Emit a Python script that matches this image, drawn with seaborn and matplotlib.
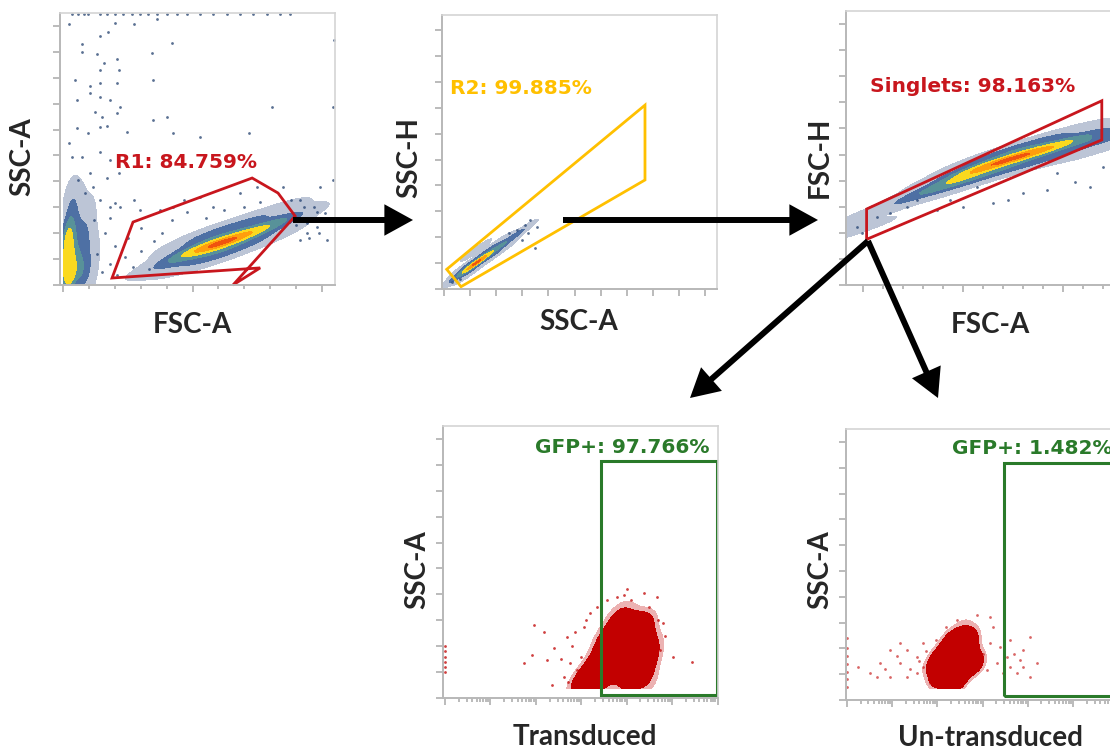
import matplotlib.pyplot as plt
import numpy as np
import seaborn as sns
from matplotlib.colors import ListedColormap
from matplotlib.patches import Polygon, Rectangle, FancyArrowPatch

W, H = 1110, 751

# ---- panel 1: FSC-A vs SSC-A, gate R1 ----
p1_gate_x = [270, 730, 830, 896, 656, 761, 189]
p1_gate_y = [243, 413, 355, 266, 0, 66, 27]
p1_main_x = [375, 452, 529, 593, 658, 722, 786, 851, 889,
             452, 529, 593, 658, 722, 786, 851,
             452, 529, 593, 658, 722, 786, 851]
p1_main_y = [71, 109, 142, 154, 180, 199, 225, 251, 264,
             150, 185, 200, 225, 245, 270, 295,
             70, 100, 112, 140, 158, 185, 210]
p1_main_w = [1, 2, 4, 5, 4, 3, 2, 1.2, 0.8,
             0.6, 1, 1.2, 1, 0.8, 0.6, 0.5,
             0.6, 1, 1.2, 1, 0.8, 0.6, 0.4]
p1_debris_x = [15, 20, 25, 30, 45, 60, 80, 20, 40, 10, 50, 100, 70, 90, 110, 35,
               90, 100, 120, 110, 70, 60, 80]
p1_debris_y = [60, 120, 200, 280, 350, 150, 100, 25, 60, 180, 240, 50, 200, 150, 80, 320,
               250, 200, 150, 300, 330, 50, 30]
p1_debris_w = [3, 3, 2, 1, 0.5, 1, 0.7, 2, 1.5, 1.5, 0.8, 0.5, 0.8, 0.6, 0.5, 0.5,
               0.6, 0.5, 0.4, 0.3, 0.4, 1.5, 1]
p1_dots_x = [21, 72, 143, 175, 201, 272, 362, 420, 342, 72, 130, 156, 207, 214, 143,
             46, 102, 143, 207, 349, 53, 104, 143, 181, 207, 220, 124, 149, 143, 53,
             98, 169, 246, 349, 400, 426, 529, 716, 806, 1048, 1044, 21, 33, 72, 143,
             181, 104, 59, 85, 117, 169, 214, 143, 181, 201, 272, 297, 375, 426, 465,
             529, 580, 683, 748, 851, 915, 967, 992, 1012, 1044, 1018, 941, 979, 915,
             150, 180, 210, 240, 270, 300, 330, 200, 160, 250, 300, 350, 130, 120, 180,
             220, 380, 420, 480, 550, 620, 700, 760, 880, 900, 940, 980, 1000, 950, 990,
             930,
             33, 59, 79, 98, 143, 169, 201, 233, 265, 297, 329, 362, 400, 438, 477,
             528, 580, 631, 683, 735, 786, 838, 876]
p1_dots_y = [1008, 930, 961, 978, 1013, 1008, 1026, 936, 897, 901, 892, 856, 871, 830, 830,
             792, 768, 781, 779, 792, 714, 740, 727, 714, 663, 689, 669, 650, 609, 605,
             586, 614, 592, 637, 650, 586, 573, 586, 689, 946, 689, 547, 496, 496, 515,
             483, 431, 405, 354, 380, 412, 431, 328, 302, 315, 328, 290, 290, 302, 328,
             341, 302, 354, 380, 380, 328, 302, 380, 277, 405, 174, 200, 225, 174,
             50, 80, 40, 110, 70, 130, 60, 150, 200, 180, 220, 170, 120, 250, 260,
             300, 200, 250, 280, 260, 290, 300, 320, 330, 230, 240, 280, 250, 180, 200,
             300,
             1045, 1045, 1045, 1045, 1045, 1045, 1045, 1045, 1045, 1045, 1045, 1045, 1045,
             1045, 1045, 1045, 1045, 1045, 1045, 1045, 1045, 1045, 1045]

# ---- panel 2: SSC-A vs SSC-H, gate R2 ----
p2_gate_x = [10, 770, 770, 65]
p2_gate_y = [76, 710, 421, 9]
p2_pop_x = [42, 87, 119, 132, 176, 221, 266, 304, 78, 96, 123, 141, 212, 230, 167, 185]
p2_pop_y = [41, 73, 99, 106, 138, 170, 202, 228, 85, 61, 150, 126, 182, 158, 150, 126]
p2_pop_w = [1, 3, 5, 4, 3, 2, 1.2, 0.6, 1, 1, 0.8, 0.8, 0.6, 0.6, 0.8, 0.8]
p2_dots_x = [355, 349, 323, 310, 278, 329, 29, 300, 250, 60]
p2_dots_y = [241, 157, 215, 247, 228, 266, 28, 190, 215, 40]

# ---- panel 3: FSC-A vs FSC-H, gate Singlets ----
p3_gate_x = [18, 1194, 1194, 18]
p3_gate_y = [291, 706, 556, 175]
p3_pop_x = [-32, 52, 302, 468, 635, 802, 968, 1202, 1302,
            468, 468, 635, 635, 802, 802, 968, 968, 1202, 1202]
p3_pop_y = [211, 275, 351, 402, 460, 498, 530, 568, 581,
            430, 374, 492, 428, 532, 462, 566, 492, 600, 530]
p3_pop_w = [0.4, 0.6, 1.2, 2.5, 4, 4, 3, 1.5, 0.8,
            0.6, 0.6, 1, 1, 1, 1, 0.8, 0.8, 0.5, 0.5]
p3_dots_x = [435, 568, 727, 918, 1060, 1135, 1202, 502, 652, 802, 968, 218, 135, -32,
             -7, 68, 268, 368]
p3_dots_y = [326, 377, 326, 364, 396, 377, 453, 300, 313, 351, 428, 300, 275, 224,
             198, 262, 326, 287]

# ---- panel 4: Transduced, GFP (decades) vs SSC-A ----
p4_gate_x = [3.43, 5.98]
p4_gate_y = [12, 916]
p4_pop_x = [3.93, 3.49, 3.19, 3.05, 4.37, 4.07, 3.63, 4.37, 4.07, 3.56, 4.22, 3.93,
            4.44, 3.30, 2.95, 4.55, 3.80]
p4_pop_y = [185, 95, 57, 44, 288, 263, 160, 134, 82, 224, 211, 340, 57, 120, 60, 200, 300]
p4_pop_w = [5, 3, 2, 1.5, 2, 3, 4, 3, 3, 2.5, 3.5, 1, 1.5, 2, 1, 1.5, 1.5]
p4_dots_x = [1.95, 2.17, 2.39, 2.68, 2.75, 2.24, 1.73, 1.91, 2.86, 3.05, 3.19, 3.56,
             3.93, 4.37, 4.66, 4.81, 5.03, 5.43, 4.74, 4.59, 2.35, 2.61, 2.90, 3.78, 3.34,
             2.55, 2.80, 3.00, 4.10, 4.50, 4.70, 4.85, 2.70, 3.10, 4.00,
             0, 0, 0, 0, 0, 0]
p4_dots_y = [282, 256, 192, 237, 134, 147, 134, 166, 256, 275, 327, 378, 398, 407, 391,
             288, 160, 140, 185, 108, 50, 82, 108, 391, 353,
             150, 200, 160, 380, 350, 300, 240, 60, 300, 420,
             100, 120, 140, 160, 180, 200]

# ---- panel 5: Un-transduced ----
p5_gate_x = [3.48, 6.5]
p5_gate_y = [16, 917]
p5_pop_x = [2.43, 2.20, 2.65, 2.72, 2.06, 2.43, 2.83, 2.57, 2.00, 2.30, 1.85]
p5_pop_y = [142, 103, 194, 245, 168, 78, 142, 284, 90, 230, 130]
p5_pop_w = [5, 3, 3, 1.5, 2, 3, 2.5, 0.8, 1.5, 2, 1]
p5_dots_x = [0.25, 0.51, 0.73, 0.95, 1.17, 1.32, 1.54, 1.69, 1.17, 0.95, 0.66, 1.84,
             1.54, 1.32, 1.69, 1.98, 2.20, 2.43, 2.87, 3.16,
             3.16, 3.31, 3.53, 3.61, 3.83, 3.90, 4.05, 4.20, 3.75, 4.05, 3.24, 3.09,
             3.46, 3.61, 3.90, 3.38, 1.40, 1.60, 1.75, 1.10, 0.85, 3.00, 3.70,
             0, 0, 0, 0, 0, 0, 0]
p5_dots_y = [129, 103, 142, 194, 142, 90, 168, 220, 220, 90, 90, 65, 103, 194, 129,
             233, 284, 310, 329, 323,
             220, 142, 168, 233, 155, 194, 245, 142, 103, 90, 284, 116, 103, 129, 129,
             207, 120, 150, 190, 170, 120, 180, 180,
             50, 80, 110, 140, 170, 200, 240]

HEAT = [(0.13, 0.25, 0.47, 0.3), (0.16, 0.33, 0.58, 0.75), (0.35, 0.58, 0.6, 0.95),
        (0.98, 0.85, 0.12, 1), (1.0, 0.62, 0.05, 1), (0.94, 0.33, 0.06, 1)]
HEAT_LEVELS = [0.02, 0.2, 0.45, 0.65, 0.82, 0.95]
RED = [(0.76, 0, 0, 0.3), (0.76, 0, 0, 1)]
RED_LEVELS = [0.06, 0.12]
NAVY = "#23406e"
DOTRED = "#c00000"

sns.set_style("ticks")
plt.rcParams["font.family"] = ["DejaVu Sans"]

fig = plt.figure(figsize=(W / 100, H / 100), dpi=100)


def make_axes(l, t, r, b, xlim, ylim):
    ax = fig.add_axes([l / W, 1 - b / H, (r - l) / W, (b - t) / H])
    ax.set_xlim(*xlim)
    ax.set_ylim(*ylim)
    for side in ["left", "bottom"]:
        ax.spines[side].set_color("#b8b8b8")
        ax.spines[side].set_linewidth(1.4)
    for side in ["top", "right"]:
        ax.spines[side].set_color("#d4d4d4")
        ax.spines[side].set_linewidth(1.2)
    ax.tick_params(which="both", colors="#a8a8a8", width=1.1,
                   labelleft=False, labelbottom=False)
    ax.tick_params(which="major", length=5)
    ax.tick_params(which="minor", length=3)
    return ax


def density(ax, x, y, w, colors, levels, bw, clip=None):
    # one filled band per density level, inner bands drawn on top
    for lev, col in zip(levels, colors):
        sns.kdeplot(x=x, y=y, weights=w, fill=True, levels=[lev, 1.0],
                    cmap=ListedColormap([col]), bw_adjust=bw, ax=ax, clip=clip,
                    gridsize=160)
    ax.set_xlabel("")
    ax.set_ylabel("")


def dots(ax, x, y, color, alpha=0.75):
    sns.scatterplot(x=x, y=y, s=4, color=color, linewidth=0, alpha=alpha, ax=ax)


def fig_text(x, y, s, **kw):
    fig.text(x / W, 1 - y / H, s, ha=kw.pop("ha", "center"), va="center", **kw)


def axis_label(x, y, s, rot=0):
    fig_text(x, y, s, rotation=rot, fontsize=20, fontweight="bold", family="Lato")


def lin_ticks(ax, xmaj, xmin=None):
    ax.set_yticks(np.arange(0, 1001, 100))
    ax.set_xticks(xmaj)
    if xmin is not None:
        ax.set_xticks(xmin, minor=True)


def log_ticks(ax):
    ax.set_yticks(np.arange(0, 1001, 100))
    ax.set_xticks(np.arange(0, 7))
    minor = [k + np.log10(m) for k in range(6) for m in range(2, 10)]
    ax.set_xticks(minor, minor=True)


# panel 1
ax1 = make_axes(60, 13, 335, 285, (-12, 1050), (0, 1050))
lin_ticks(ax1, [0, 500, 1000], np.arange(0, 1001, 100))
dots(ax1, p1_dots_x, p1_dots_y, NAVY)
density(ax1, p1_debris_x, p1_debris_y, p1_debris_w, HEAT[:4], HEAT_LEVELS[:4], 0.9,
        clip=((0, 1100), (0, 1100)))
density(ax1, p1_main_x, p1_main_y, p1_main_w, HEAT, HEAT_LEVELS, 0.95)
ax1.add_patch(Polygon(list(zip(p1_gate_x, p1_gate_y)), closed=True, fill=False,
                      ec="#c8161d", lw=2.0, clip_on=False))

# panel 2
ax2 = make_axes(442, 15, 717, 289, (-8, 1046), (0, 1058))
lin_ticks(ax2, np.arange(0, 1001, 100))
dots(ax2, p2_dots_x, p2_dots_y, NAVY)
density(ax2, p2_pop_x, p2_pop_y, p2_pop_w, HEAT, HEAT_LEVELS, 0.8)
ax2.add_patch(Polygon(list(zip(p2_gate_x, p2_gate_y)), closed=True, fill=False,
                      ec="#ffc000", lw=2.0))

# panel 3
ax3 = make_axes(846, 11, 1121, 285, (-85, 1290), (0, 1050))
lin_ticks(ax3, [0, 500, 1000], np.arange(0, 1300, 100))
dots(ax3, p3_dots_x, p3_dots_y, NAVY)
density(ax3, p3_pop_x, p3_pop_y, p3_pop_w, HEAT, HEAT_LEVELS, 0.7)
ax3.add_patch(Polygon(list(zip(p3_gate_x, p3_gate_y)), closed=True, fill=False,
                      ec="#c8161d", lw=2.0))

# panel 4
ax4 = make_axes(443, 426, 718, 698, (-0.044, 6.01), (0, 1050))
log_ticks(ax4)
dots(ax4, p4_dots_x, p4_dots_y, DOTRED)
density(ax4, p4_pop_x, p4_pop_y, p4_pop_w, RED, RED_LEVELS, 0.85,
        clip=((-1, 7), (35, 1100)))
ax4.add_patch(Rectangle((p4_gate_x[0], p4_gate_y[0]), p4_gate_x[1] - p4_gate_x[0],
                        p4_gate_y[1] - p4_gate_y[0], fill=False, ec="#2a7a2a", lw=2.2))

# panel 5
ax5 = make_axes(846, 429, 1121, 700, (-0.02, 6.06), (0, 1050))
log_ticks(ax5)
dots(ax5, p5_dots_x, p5_dots_y, DOTRED, alpha=0.6)
density(ax5, p5_pop_x, p5_pop_y, p5_pop_w, RED, RED_LEVELS, 0.85,
        clip=((-1, 7), (45, 1100)))
ax5.add_patch(Rectangle((p5_gate_x[0], p5_gate_y[0]), p5_gate_x[1] - p5_gate_x[0],
                        p5_gate_y[1] - p5_gate_y[0], fill=False, ec="#2a7a2a", lw=2.2))

# axis titles
axis_label(22, 157, "SSC-A", 90)
axis_label(192, 325, "FSC-A")
axis_label(409, 158, "SSC-H", 90)
axis_label(579, 322, "SSC-A")
axis_label(820, 157, "FSC-H", 90)
axis_label(990, 325, "FSC-A")
axis_label(417, 570, "SSC-A", 90)
axis_label(585, 737, "Transduced")
axis_label(820, 570, "SSC-A", 90)
axis_label(991, 738, "Un-transduced")

# gate names (the last one runs off the right edge, as in the original figure)
gate_kw = dict(ha="left", fontsize=14.5, fontweight="bold")
fig_text(115, 163, "R1: 84.759%", color="#c8161d", **gate_kw)
fig_text(450, 89, "R2: 99.885%", color="#ffc000", **gate_kw)
fig_text(870, 86, "Singlets: 98.163%", color="#c8161d", **gate_kw)
fig_text(535, 447, "GFP+: 97.766%", color="#2a7a2a", **gate_kw)
fig_text(952, 448, "GFP+: 1.482%", color="#2a7a2a", **gate_kw)


# arrows between plots
def arrow(x0, y0, x1, y1):
    fig.add_artist(FancyArrowPatch((x0 / W, 1 - y0 / H), (x1 / W, 1 - y1 / H),
                                   transform=fig.transFigure,
                                   arrowstyle="-|>,head_length=1.0,head_width=0.55",
                                   mutation_scale=14, lw=4.3, color="black",
                                   shrinkA=0, shrinkB=0, joinstyle="miter",
                                   capstyle="butt"))


arrow(293, 220, 413, 220)
arrow(563, 220, 818, 220)
arrow(868, 241, 690, 398)
arrow(868, 241, 938, 398)

fig.savefig("out.png", dpi=100)
